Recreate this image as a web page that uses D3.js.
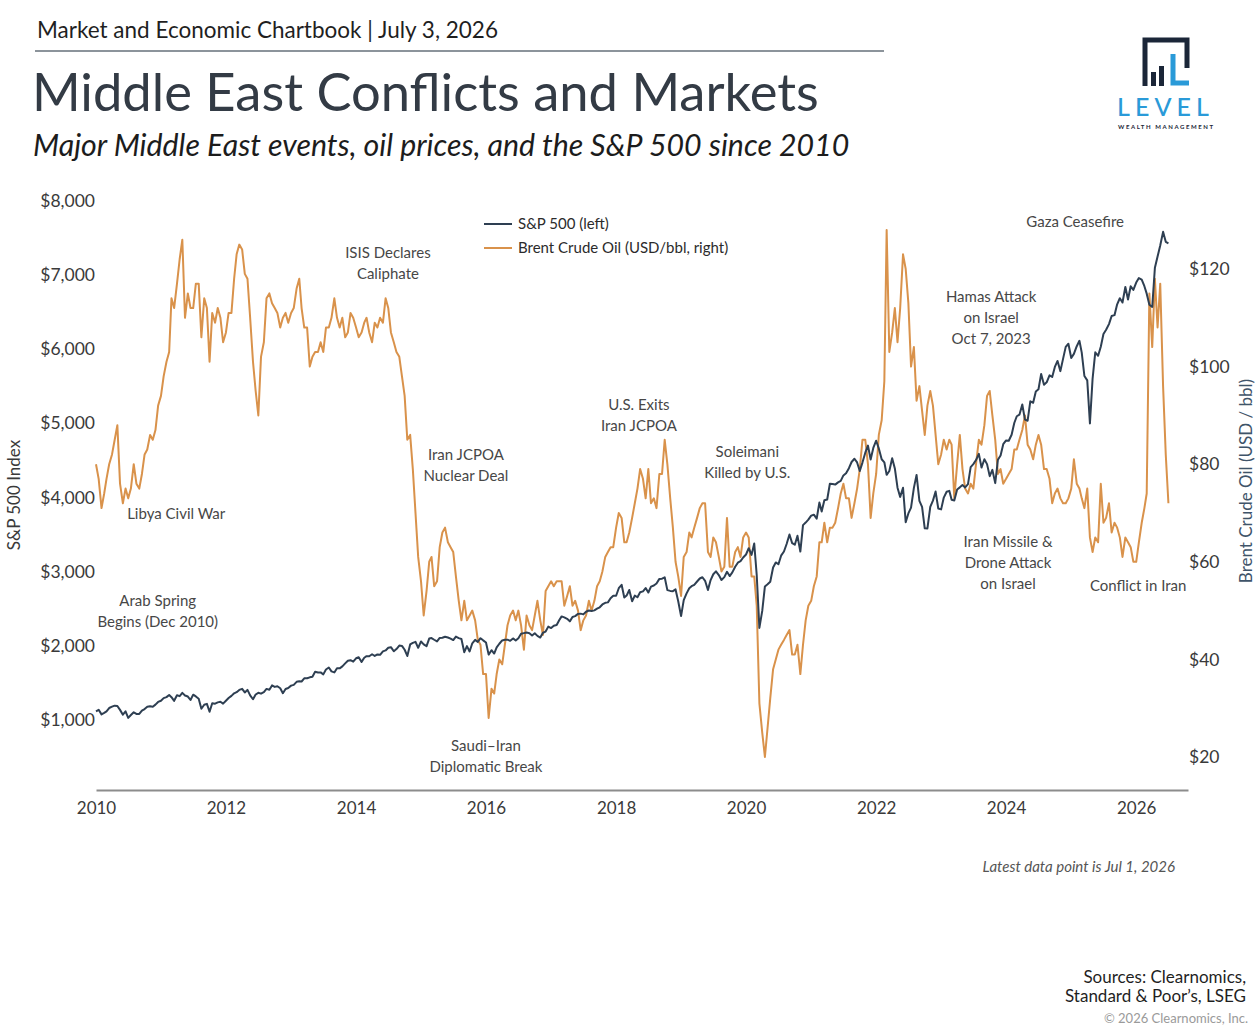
<!DOCTYPE html>
<html>
<head>
<meta charset="utf-8">
<script src="https://d3js.org/d3.v7.min.js"></script>
<style>
  body { margin: 0; background: #fff; }
  text { font-family: Lato, "Open Sans", sans-serif; }
</style>
</head>
<body>
<svg id="chart"></svg>
<script>
    var width = 1257;
    var height = 1032;

    // tick labels
    var xTicks = [2010, 2012, 2014, 2016, 2018, 2020, 2022, 2024, 2026]
    var leftTicks = [1000, 2000, 3000, 4000, 5000, 6000, 7000, 8000]
    var rightTicks = [20, 40, 60, 80, 100, 120]

    // S&P 500, two readings a month (1st and 16th), Jan 2010 .. Jul 1 2026
    var spxValues = [
      1115, 1136, 1074, 1094, 1115, 1160, 1178, 1192, 1187, 1135, 1070, 1115, 1027, 1065, 1102, 1080, 1080, 1125, 1146, 1176, 1184, 1178, 1206, 1242, // 2010
      1258, 1293, 1307, 1336, 1306, 1257, 1332, 1320, 1364, 1329, 1315, 1268, 1340, 1316, 1286, 1150, 1204, 1216, 1110, 1224, 1218, 1236, 1244, 1219, // 2011
      1258, 1294, 1324, 1358, 1374, 1404, 1419, 1370, 1405, 1330, 1278, 1342, 1365, 1354, 1375, 1418, 1406, 1465, 1445, 1454, 1427, 1360, 1416, 1430, // 2012
      1462, 1472, 1513, 1520, 1518, 1560, 1562, 1574, 1582, 1650, 1640, 1640, 1614, 1680, 1706, 1655, 1640, 1697, 1695, 1721, 1762, 1798, 1805, 1786, // 2013
      1831, 1845, 1782, 1838, 1859, 1858, 1885, 1862, 1883, 1878, 1924, 1937, 1973, 1981, 1925, 1955, 2003, 1998, 1946, 1862, 2018, 2039, 2053, 1972, // 2014
      2058, 2019, 1995, 2097, 2104, 2081, 2059, 2105, 2108, 2122, 2111, 2096, 2077, 2124, 2103, 2092, 1913, 1995, 1923, 2033, 2079, 2053, 2102, 2073, // 2015
      2044, 1880, 1940, 1895, 1978, 2027, 2072, 2080, 2082, 2066, 2099, 2071, 2102, 2161, 2170, 2178, 2170, 2139, 2168, 2133, 2111, 2176, 2191, 2258, // 2016
      2239, 2270, 2279, 2347, 2396, 2382, 2363, 2329, 2388, 2400, 2430, 2433, 2423, 2459, 2476, 2468, 2477, 2500, 2519, 2557, 2579, 2585, 2642, 2675, // 2017
      2674, 2776, 2822, 2650, 2677, 2752, 2600, 2677, 2654, 2722, 2734, 2779, 2718, 2798, 2813, 2840, 2902, 2904, 2924, 2750, 2740, 2736, 2760, 2600, // 2018
      2400, 2616, 2707, 2775, 2803, 2822, 2867, 2907, 2924, 2876, 2752, 2886, 2964, 3004, 2954, 2888, 2926, 2998, 2940, 2990, 3066, 3120, 3141, 3191, // 2019
      3231, 3316, 3226, 3380, 2954, 2240, 2470, 2800, 2830, 2864, 3055, 3124, 3100, 3215, 3271, 3373, 3500, 3385, 3363, 3483, 3270, 3627, 3662, 3701, // 2020
      3756, 3768, 3714, 3932, 3811, 3962, 3973, 4185, 4181, 4174, 4204, 4224, 4298, 4327, 4395, 4479, 4523, 4473, 4357, 4471, 4605, 4700, 4513, 4669, // 2021
      4766, 4662, 4516, 4475, 4306, 4357, 4530, 4392, 4132, 4008, 4132, 3667, 3785, 3863, 4130, 4305, 3955, 3873, 3585, 3583, 3872, 3958, 4080, 3852, // 2022
      3840, 3999, 4077, 4090, 3970, 3960, 4109, 4137, 4169, 4136, 4180, 4410, 4450, 4505, 4589, 4404, 4516, 4450, 4288, 4373, 4194, 4508, 4568, 4719, // 2023
      4770, 4766, 4846, 5005, 5096, 5117, 5254, 5051, 5036, 5297, 5278, 5431, 5460, 5667, 5522, 5554, 5648, 5626, 5762, 5842, 5705, 5870, 6032, 6074, // 2024
      5882, 5937, 6041, 6114, 5955, 5639, 5580, 5000, 5604, 5958, 5912, 6033, 6205, 6263, 6339, 6449, 6460, 6606, 6688, 6630, 6840, 6672, 6849, 6800, // 2025
      6900, 6960, 6940, 6850, 6750, 6600, 6570, 7100, 7250, 7400, 7584, 7450, 7430                                                                    // 2026
    ]

    // Brent crude, USD/bbl, same dates
    var oilValues = [
      80, 77, 71, 74, 77, 80, 82, 85, 88, 76, 72, 75, 73, 75, 80, 76, 75, 78, 82, 83, 86, 85, 87, 92,               // 2010
      94, 98, 101, 103, 114, 112, 117, 122, 126, 110, 115, 112, 112, 117, 117, 106, 114, 112, 101, 111, 109, 112, 110, 105, // 2011
      107, 111, 111, 118, 123, 125, 124, 119, 118, 110, 101, 95, 90, 102, 105, 114, 115, 113, 112, 111, 108, 110, 111, 109, // 2012
      111, 112, 116, 118, 112, 108, 108, 100, 102, 103, 103, 105, 103, 108, 108, 110, 114, 110, 108, 110, 106, 107, 111, 110, // 2013
      108, 106, 107, 109, 110, 107, 105, 109, 108, 110, 109, 114, 112, 107, 105, 103, 102, 98, 94, 85, 86, 79, 70, 61, // 2014
      56, 49, 54, 60, 61, 55, 56, 63, 66, 67, 64, 63, 62, 57, 52, 48, 52, 48, 49, 50, 48, 44, 43, 37,               // 2015
      37, 28, 34, 33, 37, 40, 39, 43, 47, 49, 50, 48, 50, 47, 42, 49, 47, 46, 49, 52, 48, 45, 54, 55,               // 2016
      56, 55, 56, 56, 56, 51, 53, 55, 51, 52, 50, 46, 48, 49, 52, 50, 52, 55, 56, 58, 61, 62, 63, 63,               // 2017
      67, 70, 69, 64, 64, 66, 69, 72, 75, 79, 77, 73, 79, 72, 73, 71, 78, 78, 85, 80, 73, 67, 60, 57,               // 2018
      53, 61, 62, 66, 65, 67, 69, 71, 72, 72, 62, 61, 65, 64, 61, 58, 59, 69, 59, 59, 62, 63, 61, 65,               // 2019
      66, 65, 57, 57, 51, 31, 25, 20, 26, 32, 38, 40, 42, 43, 44, 45, 46, 41, 41, 43, 37, 43, 48, 51,               // 2020
      52, 55, 57, 64, 64, 68, 64, 67, 67, 68, 71, 74, 76, 73, 73, 69, 72, 75, 79, 85, 85, 80, 69, 74,               // 2021
      78, 86, 89, 97, 128, 103, 107, 112, 105, 112, 123, 120, 113, 100, 104, 93, 96, 91, 86, 92, 95, 92, 86, 80,    // 2022
      82, 85, 83, 85, 84, 73, 80, 86, 79, 75, 74, 76, 75, 80, 85, 84, 88, 94, 95, 90, 85, 78, 79, 76,               // 2023
      77, 78, 79, 83, 83, 85, 87, 90, 84, 83, 81, 84, 86, 84, 79, 79, 77, 72, 74, 75, 73, 72, 72, 73,               // 2024
      75, 81, 76, 75, 73, 71, 75, 65, 62, 65, 64, 76, 68, 69, 72, 66, 68, 67, 65, 61, 65, 64, 63, 60,               // 2025
      60, 64, 68, 71, 74, 115, 104, 118, 108, 117, 96, 82, 72                                                       // 2026
    ]

    var legendItems = ["S&P 500 (left)", "Brent Crude Oil (USD/bbl, right)"]

    // event labels, anchored in chart units (decimal year, left axis value of first line)
    var annotations = [
      {lines: ["ISIS Declares", "Caliphate"], year: 2014.49, value: 7230, anchor: "middle"},
      {lines: ["Libya Civil War"], year: 2010.48, value: 3710, anchor: "start"},
      {lines: ["Arab Spring", "Begins (Dec 2010)"], year: 2010.95, value: 2540, anchor: "middle"},
      {lines: ["Iran JCPOA", "Nuclear Deal"], year: 2015.69, value: 4505, anchor: "middle"},
      {lines: ["Saudi\u2013Iran", "Diplomatic Break"], year: 2016.0, value: 580, anchor: "middle"},
      {lines: ["U.S. Exits", "Iran JCPOA"], year: 2018.35, value: 5180, anchor: "middle"},
      {lines: ["Soleimani", "Killed by U.S."], year: 2020.02, value: 4545, anchor: "middle"},
      {lines: ["Hamas Attack", "on Israel", "Oct 7, 2023"], year: 2023.77, value: 6636, anchor: "middle"},
      {lines: ["Gaza Ceasefire"], year: 2025.06, value: 7643, anchor: "middle"},
      {lines: ["Iran Missile &", "Drone Attack", "on Israel"], year: 2024.03, value: 3332, anchor: "middle"},
      {lines: ["Conflict in Iran"], year: 2026.03, value: 2738, anchor: "middle"}
    ]

    var navy = "#2e3f52"
    var orange = "#d9924b"

    function dateAt(i) {
      return new Date(2010, Math.floor(i / 2), i % 2 ? 16 : 1)
    }
    function yearToDate(y) {
      var yr = Math.floor(y)
      return new Date(yr, 0, 1 + Math.round((y - yr) * 365))
    }

    var svg = d3.select("#chart").attr("width", width).attr("height", height)

    var x = d3.scaleTime()
      .domain([new Date(2010, 0, 1), new Date(2026, 9, 19)])
      .range([96, 1188])
    var yLeft = d3.scaleLinear().domain([0, 8000]).range([794, 201])
    var yRight = d3.scaleLinear().domain([0, 120]).range([854.6, 269])

    // header
    svg.append("text").attr("x", 37).attr("y", 38)
      .attr("font-size", 22.5).attr("fill", "#1f1f1f")
      .text("Market and Economic Chartbook | July 3, 2026")
    svg.append("line").attr("x1", 35).attr("x2", 884).attr("y1", 51).attr("y2", 51)
      .attr("stroke", "#66707a").attr("stroke-width", 1.3)
    svg.append("text").attr("x", 32).attr("y", 111)
      .attr("font-size", 52.5).attr("fill", "#333b45")
      .text("Middle East Conflicts and Markets")
    svg.append("text").attr("x", 33).attr("y", 156)
      .attr("font-size", 30.3).attr("font-style", "italic").attr("fill", "#1c1c1c")
      .text("Major Middle East events, oil prices, and the S&P 500 since 2010")

    // logo
    var logo = svg.append("g")
    logo.append("path").attr("d", "M1145,86 V40 H1187 V68")
      .attr("fill", "none").attr("stroke", "#1b2638").attr("stroke-width", 5)
    logo.append("rect").attr("x", 1151).attr("y", 72).attr("width", 5).attr("height", 14).attr("fill", "#1b2638")
    logo.append("rect").attr("x", 1159).attr("y", 66).attr("width", 5).attr("height", 20).attr("fill", "#1b2638")
    logo.append("path").attr("d", "M1173,54 V83 H1189")
      .attr("fill", "none").attr("stroke", "#2a9ad8").attr("stroke-width", 5)
    logo.append("text").attr("x", 1117).attr("y", 116)
      .attr("font-size", 25).attr("font-family", "'Noto Sans'").attr("font-weight", 500)
      .attr("fill", "#2a9ad8").attr("textLength", 92).attr("lengthAdjust", "spacing")
      .text("LEVEL")
    logo.append("text").attr("x", 1118).attr("y", 129)
      .attr("font-size", 6).attr("font-weight", 700)
      .attr("fill", "#1b2638").attr("textLength", 95).attr("lengthAdjust", "spacing")
      .text("WEALTH MANAGEMENT")

    // axes
    var xAxis = d3.axisBottom(x)
      .tickValues(xTicks.map(d => new Date(d, 0, 1)))
      .tickFormat(d3.timeFormat("%Y"))
      .tickSize(0).tickSizeOuter(0).tickPadding(12)
    var gx = svg.append("g").attr("transform", "translate(0,790)").call(xAxis)
    gx.attr("font-size", 17).attr("font-family", null).attr("color", "#3a3a3a")
    gx.select(".domain").attr("stroke", "#8c8c8c").attr("stroke-width", 2)

    var leftAxis = d3.axisLeft(yLeft).tickValues(leftTicks)
      .tickFormat(d => "$" + d3.format(",")(d)).tickSize(0).tickPadding(0)
    var gl = svg.append("g").attr("transform", "translate(95,0)").call(leftAxis)
    gl.attr("font-size", 17.5).attr("font-family", null).attr("color", "#3a3a3a")
    gl.select(".domain").remove()

    var rightAxis = d3.axisRight(yRight).tickValues(rightTicks)
      .tickFormat(d => "$" + d).tickSize(0).tickPadding(1)
    var gr = svg.append("g").attr("transform", "translate(1188,0)").call(rightAxis)
    gr.attr("font-size", 17.5).attr("font-family", null).attr("color", "#3a3a3a")
    gr.select(".domain").remove()

    svg.append("text")
      .attr("transform", "translate(20,495) rotate(-90)")
      .attr("text-anchor", "middle").attr("font-size", 17).attr("fill", "#3a3a3a")
      .text("S&P 500 Index")
    svg.append("text")
      .attr("transform", "translate(1252,481) rotate(-90)")
      .attr("text-anchor", "middle").attr("font-size", 17).attr("fill", "#3f5469")
      .text("Brent Crude Oil (USD / bbl)")

    // lines
    var oilLine = d3.line().x((d, i) => x(dateAt(i))).y(d => yRight(d))
    var spxLine = d3.line().x((d, i) => x(dateAt(i))).y(d => yLeft(d))

    svg.append("path").datum(oilValues)
      .attr("d", oilLine).attr("fill", "none")
      .attr("stroke", orange).attr("stroke-width", 2).attr("stroke-linejoin", "round")
    svg.append("path").datum(spxValues)
      .attr("d", spxLine).attr("fill", "none")
      .attr("stroke", navy).attr("stroke-width", 2).attr("stroke-linejoin", "round")

    // legend
    var legend = svg.append("g").selectAll("g").data(legendItems).enter().append("g")
      .attr("transform", (d, i) => `translate(484,${224 + i * 24})`)
    legend.append("line").attr("x1", 0).attr("x2", 28)
      .attr("stroke", (d, i) => i ? orange : navy).attr("stroke-width", 2)
    legend.append("text").attr("x", 34).attr("dy", "0.35em")
      .attr("font-size", 15).attr("fill", "#2b2b2b").text(d => d)

    // annotations
    var notes = svg.append("g").selectAll("text").data(annotations).enter().append("text")
      .attr("x", d => x(yearToDate(d.year)))
      .attr("y", d => yLeft(d.value))
      .attr("text-anchor", d => d.anchor)
      .attr("font-size", 15).attr("fill", "#474747")
    notes.selectAll("tspan").data(d => d.lines.map(l => ({l: l, p: d}))).enter().append("tspan")
      .attr("x", d => x(yearToDate(d.p.year)))
      .attr("dy", (d, i) => i ? 21 : 0)
      .text(d => d.l)

    // footer
    svg.append("text").attr("x", 1175).attr("y", 872).attr("text-anchor", "end")
      .attr("font-size", 15).attr("font-style", "italic").attr("fill", "#555")
      .text("Latest data point is Jul 1, 2026")
    svg.append("text").attr("x", 1246).attr("y", 983).attr("text-anchor", "end")
      .attr("font-size", 17).attr("fill", "#1f1f1f").text("Sources: Clearnomics,")
    svg.append("text").attr("x", 1246).attr("y", 1002).attr("text-anchor", "end")
      .attr("font-size", 17).attr("fill", "#1f1f1f").text("Standard & Poor\u2019s, LSEG")
    svg.append("text").attr("x", 1248).attr("y", 1023).attr("text-anchor", "end")
      .attr("font-size", 13).attr("fill", "#9a9a9a").text("\u00a9 2026 Clearnomics, Inc.")
</script>
</body>
</html>
